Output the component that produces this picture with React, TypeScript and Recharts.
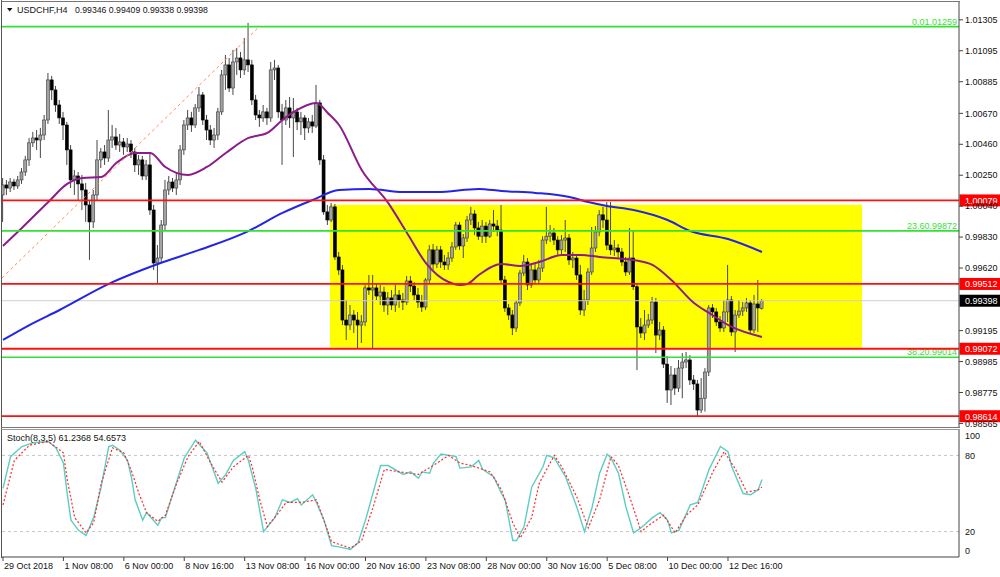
import React from 'react';
import { ComposedChart, Bar, Line, XAxis, YAxis, ReferenceLine, ReferenceArea } from 'recharts';

const FONT = '"Liberation Sans", Arial, Helvetica, sans-serif';

const opens = [1.00116,1.00184,1.00163,1.00204,1.00177,1.00218,1.00272,1.00354,1.00470,1.00503,1.00489,1.00523,1.00625,1.00897,1.00829,1.00727,1.00639,1.00591,1.00422,1.00218,1.00245,1.00191,1.00150,1.00048,0.99933,1.00116,1.00354,1.00408,1.00367,1.00489,1.00510,1.00455,1.00476,1.00442,1.00462,1.00408,1.00320,1.00354,1.00245,1.00320,1.00014,0.99654,0.99688,0.99912,1.00150,1.00204,1.00163,1.00218,1.00422,1.00591,1.00639,1.00591,1.00707,1.00795,1.00625,1.00557,1.00489,1.00523,1.00680,1.00931,1.00999,1.00842,1.01019,1.01046,1.00965,1.01033,1.00999,1.00761,1.00659,1.00639,1.00680,1.00639,1.00965,1.00978,1.00680,1.00625,1.00707,1.00639,1.00680,1.00612,1.00639,1.00571,1.00612,1.00584,1.00741,1.00354,1.00001,0.99946,1.00035,0.99695,0.99607,0.99267,0.99233,0.99301,0.99267,0.99233,0.99254,0.99485,0.99471,0.99485,0.99430,0.99457,0.99369,0.99417,0.99369,0.99437,0.99403,0.99389,0.99532,0.99498,0.99437,0.99389,0.99355,0.99539,0.99743,0.99647,0.99743,0.99661,0.99641,0.99688,0.99763,0.99912,0.99770,0.99824,0.99946,0.99987,0.99892,0.99836,0.99905,0.99836,0.99919,0.99905,0.99878,0.99539,0.99349,0.99301,0.99213,0.99383,0.99586,0.99661,0.99505,0.99607,0.99539,0.99620,0.99810,0.99836,0.99858,0.99810,0.99743,0.99810,0.99824,0.99675,0.99688,0.99573,0.99335,0.99403,0.99593,0.99756,0.99865,0.99981,0.99946,0.99776,0.99743,0.99756,0.99729,0.99661,0.99593,0.99688,0.99493,0.99220,0.99179,0.99233,0.99267,0.99389,0.99165,0.99199,0.98968,0.98792,0.98894,0.98805,0.98941,0.98982,0.98996,0.98860,0.98833,0.98656,0.98736,0.98914,0.99349,0.99322,0.99254,0.99213,0.99322,0.99403,0.99186,0.99301,0.99328,0.99349,0.99383,0.99199,0.99376,0.99346];
const highs = [1.00231,1.00218,1.00231,1.00225,1.00245,1.00299,1.00381,1.00503,1.00544,1.00557,1.00571,1.00659,1.00944,1.00924,1.00856,1.00761,1.00680,1.00612,1.00455,1.00286,1.00272,1.00252,1.00197,1.00082,1.00150,1.00489,1.00435,1.00455,1.00693,1.00591,1.00571,1.00530,1.00503,1.00503,1.00489,1.00435,1.00388,1.00381,1.00354,1.00408,1.00048,0.99776,0.99946,1.00218,1.00245,1.00231,1.00272,1.00455,1.00625,1.00693,1.00680,1.00734,1.00849,1.00815,1.00659,1.00591,1.00571,1.00707,1.00965,1.01067,1.01046,1.01101,1.01114,1.01087,1.01182,1.01284,1.01033,1.00795,1.00693,1.00727,1.00707,1.01019,1.01033,1.00999,1.00734,1.00761,1.00781,1.00775,1.00707,1.00680,1.00659,1.00639,1.00659,1.00863,1.00761,1.00388,1.00048,1.00062,1.00055,0.99729,0.99641,0.99403,0.99369,0.99335,0.99322,0.99301,0.99505,0.99573,0.99573,0.99518,0.99505,0.99493,0.99457,0.99471,0.99505,0.99471,0.99451,0.99566,0.99566,0.99525,0.99485,0.99437,0.99552,0.99776,0.99783,0.99770,0.99770,0.99709,0.99729,0.99797,0.99933,0.99933,0.99851,0.99974,1.00035,1.00014,0.99933,0.99946,0.99933,0.99946,1.00014,0.99946,1.00048,0.99566,0.99376,0.99335,0.99403,0.99607,0.99709,0.99688,0.99654,0.99647,0.99675,0.99836,1.00035,0.99912,0.99892,0.99836,0.99844,0.99946,0.99851,0.99729,0.99715,0.99641,0.99471,0.99620,0.99899,0.99905,1.00014,1.00035,1.00068,1.00068,0.99810,0.99783,0.99756,0.99695,0.99892,0.99878,0.99518,0.99281,0.99335,0.99308,0.99424,0.99417,0.99254,0.99226,0.99022,0.98955,0.98941,0.98996,0.99043,0.99050,0.99029,0.98894,0.98860,0.98873,0.98941,0.99369,0.99376,0.99349,0.99294,0.99403,0.99641,0.99430,0.99335,0.99403,0.99389,0.99417,0.99403,0.99437,0.99539,0.99409];
const lows = [0.99933,1.00116,1.00136,1.00150,1.00157,1.00191,1.00245,1.00313,1.00442,1.00422,1.00367,1.00489,1.00598,1.00761,1.00680,1.00598,1.00489,1.00320,1.00163,1.00116,1.00082,1.00014,0.99933,0.99675,0.99892,1.00082,1.00299,1.00320,1.00340,1.00435,1.00422,1.00408,1.00388,1.00408,1.00367,1.00272,1.00252,1.00218,1.00218,0.99981,0.99607,0.99518,0.99661,0.99878,1.00116,1.00136,1.00116,1.00184,1.00388,1.00557,1.00544,1.00571,1.00680,1.00591,1.00489,1.00455,1.00435,1.00489,1.00659,1.00829,1.00815,1.00795,1.00931,1.00910,1.00931,1.00951,1.00727,1.00625,1.00578,1.00612,1.00591,1.00612,1.00897,1.00639,1.00320,1.00591,1.00571,1.00374,1.00557,1.00523,1.00489,1.00537,1.00537,1.00571,1.00320,0.99981,0.99912,0.99933,0.99675,0.99573,0.99233,0.99131,0.99199,0.99179,0.99077,0.99111,0.99226,0.99437,0.99077,0.99403,0.99369,0.99322,0.99301,0.99335,0.99322,0.99349,0.99335,0.99369,0.99457,0.99403,0.99349,0.99322,0.99335,0.99518,0.99607,0.99620,0.99620,0.99607,0.99607,0.99661,0.99743,0.99743,0.99688,0.99797,0.99912,0.99844,0.99810,0.99790,0.99790,0.99824,0.99865,0.99836,0.99518,0.99322,0.99267,0.99165,0.99186,0.99362,0.99566,0.99471,0.99485,0.99512,0.99518,0.99593,0.99783,0.99797,0.99776,0.99709,0.99715,0.99729,0.99641,0.99620,0.99539,0.99301,0.99294,0.99369,0.99573,0.99729,0.99836,0.99892,0.99743,0.99709,0.99702,0.99688,0.99634,0.99566,0.99573,0.99471,0.98927,0.99145,0.99131,0.99213,0.99240,0.99043,0.99131,0.98941,0.98704,0.98690,0.98758,0.98778,0.98736,0.98941,0.98826,0.98792,0.98609,0.98636,0.98645,0.98887,0.99281,0.99226,0.99186,0.99186,0.99254,0.99159,0.99050,0.99281,0.99294,0.99322,0.99172,0.99179,0.99186,0.99338];
const closes = [1.00184,1.00163,1.00204,1.00177,1.00218,1.00272,1.00354,1.00470,1.00503,1.00489,1.00523,1.00625,1.00897,1.00829,1.00727,1.00639,1.00591,1.00422,1.00218,1.00245,1.00191,1.00150,1.00048,0.99933,1.00116,1.00354,1.00408,1.00367,1.00489,1.00510,1.00455,1.00476,1.00442,1.00462,1.00408,1.00320,1.00354,1.00245,1.00320,1.00014,0.99654,0.99688,0.99912,1.00150,1.00204,1.00163,1.00218,1.00422,1.00591,1.00639,1.00591,1.00707,1.00795,1.00625,1.00557,1.00489,1.00523,1.00680,1.00931,1.00999,1.00842,1.01019,1.01046,1.00965,1.01033,1.00999,1.00761,1.00659,1.00639,1.00680,1.00639,1.00965,1.00978,1.00680,1.00625,1.00707,1.00639,1.00680,1.00612,1.00639,1.00571,1.00612,1.00584,1.00741,1.00354,1.00001,0.99946,1.00035,0.99695,0.99607,0.99267,0.99233,0.99301,0.99267,0.99233,0.99254,0.99485,0.99471,0.99485,0.99430,0.99457,0.99369,0.99417,0.99369,0.99437,0.99403,0.99389,0.99532,0.99498,0.99437,0.99389,0.99355,0.99539,0.99743,0.99647,0.99743,0.99661,0.99641,0.99688,0.99763,0.99912,0.99770,0.99824,0.99946,0.99987,0.99892,0.99836,0.99905,0.99836,0.99919,0.99905,0.99878,0.99539,0.99349,0.99301,0.99213,0.99383,0.99586,0.99661,0.99505,0.99607,0.99539,0.99620,0.99810,0.99836,0.99858,0.99810,0.99743,0.99810,0.99824,0.99675,0.99688,0.99573,0.99335,0.99403,0.99593,0.99756,0.99865,0.99981,0.99946,0.99776,0.99743,0.99756,0.99729,0.99661,0.99593,0.99688,0.99493,0.99220,0.99179,0.99233,0.99267,0.99389,0.99165,0.99199,0.98968,0.98792,0.98894,0.98805,0.98941,0.98982,0.98996,0.98860,0.98833,0.98656,0.98736,0.98914,0.99349,0.99322,0.99254,0.99213,0.99322,0.99403,0.99186,0.99301,0.99328,0.99349,0.99383,0.99199,0.99376,0.99349,0.99398];

const blueBars = [0,7,15,28,41,52,65,74,82,89,97,106,115,126,132,141,150,155,160,167,176,182,192,201];
const blueVals = [0.99132,0.99233,0.99335,0.99512,0.99647,0.99743,0.99871,0.99994,1.00082,1.00150,1.00157,1.00136,1.00136,1.00157,1.00143,1.00130,1.00102,1.00068,1.00041,1.00014,0.99946,0.99871,0.99817,0.99729];
const purpleBars = [0,5,12,17,21,26,30,35,39,43,49,54,59,65,70,74,77,83,86,89,95,102,107,112,118,121,123,126,132,137,142,148,153,158,167,172,177,183,187,193,201];
const purpleVals = [0.99770,0.99892,1.00068,1.00191,1.00231,1.00238,1.00333,1.00401,1.00401,1.00306,1.00252,1.00306,1.00401,1.00503,1.00537,1.00625,1.00680,1.00741,1.00673,1.00591,1.00286,1.00062,0.99858,0.99654,0.99525,0.99505,0.99512,0.99573,0.99647,0.99634,0.99661,0.99709,0.99709,0.99695,0.99675,0.99641,0.99539,0.99383,0.99315,0.99220,0.99152];

const stochMainBars = [0,2,5,8,12,14,16,17,18,20,22,24,26,28,29,31,33,34,35,37,38,41,42,43,45,48,51,54,57,59,61,64,65,67,69,72,74,76,78,79,82,83,85,87,89,92,94,96,100,102,106,108,110,111,113,114,116,120,121,124,126,127,130,132,133,135,136,138,140,143,144,146,149,152,154,156,158,160,161,163,165,167,169,172,174,176,177,179,182,184,187,190,192,193,196,198,200,201];
const stochMainVals = [54,79,87,90,91,86,74,50,29,21,17,31,55,87,88,84,76,63,45,29,35,25,31,31,50,78,92,82,58,65,76,83,76,53,20,31,45,43,46,41,49,43,29,9,8,6,11,29,72,72,65,67,62,67,66,74,81,79,70,71,76,69,63,50,45,13,13,24,55,71,80,78,63,39,20,39,66,81,78,66,39,19,23,31,35,29,19,21,41,43,69,87,83,71,50,49,53,61];
const stochSigBars = [0,3,7,12,16,17,19,22,24,26,29,32,34,36,38,41,43,46,49,52,55,58,61,65,66,68,70,73,75,79,83,85,87,92,95,98,101,105,110,115,118,121,124,129,132,135,137,140,142,146,148,152,155,158,161,163,166,169,171,175,178,181,184,188,191,194,197,200,201];
const stochSigVals = [41,76,88,91,82,61,31,19,27,58,86,82,68,50,35,28,33,58,79,91,74,59,71,80,71,45,24,35,43,43,45,29,12,7,13,39,69,67,65,74,80,74,72,67,53,27,15,31,58,80,71,47,23,45,79,72,47,20,25,33,19,33,41,67,83,69,51,53,55];

const priceTicks = [1.01305, 1.01095, 1.00885, 1.0067, 1.0046, 1.0025, 1.0004, 0.9983, 0.9962, 0.99195, 0.98985, 0.98775, 0.98565];
const stochTicks = [0, 20, 80, 100];
const xTickBars = [0, 16, 32, 48, 64, 80, 96, 112, 128, 144, 160, 176, 192];
const xTickLabels = ['29 Oct 2018', '1 Nov 08:00', '6 Nov 00:00', '8 Nov 16:00', '13 Nov 08:00', '16 Nov 00:00', '20 Nov 16:00', '23 Nov 08:00', '28 Nov 00:00', '30 Nov 16:00', '5 Dec 08:00', '10 Dec 00:00', '12 Dec 16:00'];

const greenLevels = [1.01259, 0.99872, 0.99014];
const greenTags = ['0.01.01259', '23.60.99872', '38.20.99014'];
const redLevels = [1.00079, 0.99512, 0.99072, 0.98614];
const lastPrice = 0.99398;
const boxBars = [86.6, 227.5];
const boxPrices = [0.99081, 1.00049];
const fibBars = [-0.26, 68];
const fibPrices = [0.99553, 1.01262];
const priceDomain = [0.98534, 1.01426];
const barDomain = [-0.265, 253.18];

const titleSymbol = 'USDCHF,H4';
const titleValues = '0.99346 0.99409 0.99338 0.99398';
const stochTitle = 'Stoch(8,3,5) 61.2368 54.6573';

const mainData: any[] = opens.map((o, i) => ({
  i, open: o, high: highs[i], low: lows[i], close: closes[i], range: [lows[i], highs[i]],
}));
blueBars.forEach((b, k) => { mainData[b].blue = blueVals[k]; });
purpleBars.forEach((b, k) => { mainData[b].purple = purpleVals[k]; });

const stochData: any[] = opens.map((_, i) => ({ i }));
stochMainBars.forEach((b, k) => { stochData[b].main = stochMainVals[k]; });
stochSigBars.forEach((b, k) => { stochData[b].sig = stochSigVals[k]; });

const Candle = (props: any) => {
  const { x, y, width, height, payload } = props;
  if (!payload || x == null || y == null) return null;
  const { open, close, high, low } = payload;
  const top = Math.min(y, y + height);
  const h = Math.abs(height);
  const cx = x + width / 2;
  const span = high - low;
  const py = (v: number) => (span > 0 ? top + ((high - v) / span) * h : top);
  const bTop = py(Math.max(open, close));
  const bBot = py(Math.min(open, close));
  const bull = close >= open;
  const bw = 3;
  return (
    <g>
      <line x1={cx} x2={cx} y1={top} y2={top + h} stroke="#474747" strokeWidth={1} />
      <rect x={cx - bw / 2} y={bTop} width={bw} height={Math.max(bBot - bTop, 1)}
        fill={bull ? '#a2a2a2' : '#000000'} stroke={bull ? '#3a3a3a' : '#000000'} strokeWidth={0.6} />
    </g>
  );
};

const priceTag = (text: string, bg: string) => (p: any) => {
  const vb = p.viewBox || {};
  const yy = vb.y;
  const xx = vb.x + vb.width;
  return (
    <g>
      <rect x={xx + 0.5} y={yy - 6} width={41} height={12} fill={bg} />
      <text x={xx + 6} y={yy + 3.5} fontSize={9} fill="#ffffff" fontFamily={FONT}>{text}</text>
    </g>
  );
};

const greenTag = (text: string) => (p: any) => {
  const vb = p.viewBox || {};
  return (
    <text x={vb.x + vb.width - 2} y={vb.y - 2} textAnchor="end" fontSize={9} fill="#3ade3a" fontFamily={FONT}>{text}</text>
  );
};

const XTick = (p: any) => {
  const idx = xTickBars.indexOf(p.payload.value);
  return (
    <text x={p.x + 1} y={p.y} dy="0.71em" fontSize={9} fill="#111" fontFamily={FONT} textAnchor="start">
      {idx >= 0 ? xTickLabels[idx] : ''}
    </text>
  );
};

const StochTick = (p: any) => {
  const v = p.payload.value;
  const dy = v === 100 ? 6 : v === 0 ? -6 : 0;
  return (
    <text x={p.x} y={p.y + dy} dy="0.35em" fontSize={9} fill="#111" fontFamily={FONT} textAnchor="start">{v}</text>
  );
};

export default function App() {
  return (
    <div style={{ position: 'absolute', left: 0, top: 0, width: 1000, height: 577, background: '#ffffff', overflow: 'hidden' }}>
      <div style={{ position: 'absolute', left: 0, top: 0 }}>
        <ComposedChart width={1000} height={428} data={mainData} margin={{ top: 2, right: 0, left: 2, bottom: 0 }}>
          <XAxis type="number" dataKey="i" domain={barDomain} hide allowDataOverflow />
          <YAxis orientation="right" type="number" domain={priceDomain} allowDataOverflow ticks={priceTicks} interval={0}
            width={41} tickSize={4} tickMargin={2} tickFormatter={(v: number) => v.toFixed(5)}
            tick={{ fontSize: 9, fill: '#111', fontFamily: FONT }} tickLine={{ stroke: '#444' }} axisLine={{ stroke: '#444' }} />
          <ReferenceArea x1={boxBars[0]} x2={boxBars[1]} y1={boxPrices[0]} y2={boxPrices[1]} fill="#ffff00" fillOpacity={1} stroke="none" />
          <ReferenceLine y={lastPrice} stroke="#cfcfcf" strokeWidth={1} label={priceTag(lastPrice.toFixed(5), '#000000')} />
          <Bar dataKey="range" barSize={3} shape={Candle} isAnimationActive={false} />
          <Line dataKey="blue" type="monotone" stroke="#2424e6" strokeWidth={2} dot={false} connectNulls isAnimationActive={false} />
          <Line dataKey="purple" type="monotone" stroke="#8c1c8c" strokeWidth={2} dot={false} connectNulls isAnimationActive={false} />
          {greenLevels.map((g, k) => (
            <ReferenceLine key={'g' + k} y={g} stroke="#33e033" strokeWidth={1.6} label={greenTag(greenTags[k])} />
          ))}
          {redLevels.map((r, k) => (
            <ReferenceLine key={'r' + k} y={r} stroke="#ff1010" strokeWidth={1.8} label={priceTag(r.toFixed(5), '#ff0000')} />
          ))}
          <ReferenceLine segment={[{ x: fibBars[0], y: fibPrices[0] }, { x: fibBars[1], y: fibPrices[1] }]}
            stroke="#ff8c5a" strokeWidth={1} strokeDasharray="3 3" />
        </ComposedChart>
      </div>
      <div style={{ position: 'absolute', left: 0, top: 428 }}>
        <ComposedChart width={1000} height={149} data={stochData} margin={{ top: 2, right: 0, left: 2, bottom: 0 }}>
          <XAxis type="number" dataKey="i" domain={barDomain} allowDataOverflow ticks={xTickBars} interval={0} height={20}
            tick={<XTick />} tickSize={4} tickMargin={2} tickLine={{ stroke: '#444' }} axisLine={{ stroke: '#444' }} />
          <YAxis orientation="right" type="number" domain={[0, 100]} ticks={stochTicks} interval={0} width={41}
            tick={<StochTick />} tickSize={3} tickMargin={3} tickLine={false} axisLine={{ stroke: '#444' }} />
          <ReferenceLine y={80} stroke="#c4c4c4" strokeDasharray="3 3" />
          <ReferenceLine y={20} stroke="#c4c4c4" strokeDasharray="3 3" />
          <Line dataKey="main" type="linear" stroke="#5ccdc3" strokeWidth={1.4} dot={false} connectNulls isAnimationActive={false} />
          <Line dataKey="sig" type="linear" stroke="#ff2a2a" strokeWidth={1.2} strokeDasharray="2 2" dot={false} connectNulls isAnimationActive={false} />
        </ComposedChart>
      </div>
      <svg width={1000} height={577} style={{ position: 'absolute', left: 0, top: 0, pointerEvents: 'none' }}>
        <line x1={1.5} x2={1.5} y1={0} y2={558} stroke="#555" strokeWidth={1} />
        <line x1={1} x2={960} y1={1.5} y2={1.5} stroke="#777" strokeWidth={1} />
        <line x1={1} x2={960} y1={427.5} y2={427.5} stroke="#777" strokeWidth={1} />
        <line x1={1} x2={960} y1={429.5} y2={429.5} stroke="#999" strokeWidth={1} />
        <polygon points="7,8 12.5,8 9.75,11.5" fill="#111" />
        <text x={17} y={12.7} fontSize={9} fill="#111" fontFamily={FONT}>{titleSymbol}</text>
        <text x={75} y={12.7} fontSize={8.7} fill="#111" fontFamily={FONT}>{titleValues}</text>
        <text x={7} y={440.5} fontSize={9} fill="#111" fontFamily={FONT}>{stochTitle}</text>
      </svg>
    </div>
  );
}
